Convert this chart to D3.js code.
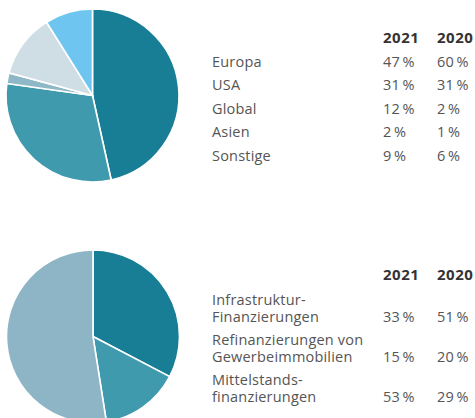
<!DOCTYPE html>
<html>
<head>
<meta charset="utf-8">
<script src="https://cdn.jsdelivr.net/npm/d3@7"></script>
<style>
  body { margin: 0; background: #fff; }
  svg text { font-family: "Open Sans", sans-serif; font-size: 14.5px; fill: #555; letter-spacing: 0.2px; }
  svg text.head { font-weight: bold; fill: #333; font-size: 15px; letter-spacing: 0.5px; }
</style>
</head>
<body>
<svg width="475" height="418"></svg>
<script>
// regions table (top)
var regions = ["Europa", "USA", "Global", "Asien", "Sonstige"];
var regions2021 = [47, 31, 12, 2, 9];
var regions2020 = [60, 31, 2, 1, 6];
var regionColors = ["#177e95", "#3f9aae", "#cfdde5", "#8eb8c7", "#6ec6f0"];
var regionPieOrder = ["Europa", "USA", "Asien", "Global", "Sonstige"];

// financing table (bottom)
var loans = [["Infrastruktur-", "Finanzierungen"], ["Refinanzierungen von", "Gewerbeimmobilien"], ["Mittelstands-", "finanzierungen"]];
var loans2021 = [33, 15, 53];
var loans2020 = [51, 20, 29];
var loanColors = ["#177e95", "#3f9aae", "#8db5c6"];

var years = ["2021", "2020"];

var svg = d3.select("svg");
var r = 86.5;
var arc = d3.arc().innerRadius(0).outerRadius(r);
var pie = d3.pie().sort(null).value(d => d.value);

function drawPie(cx, cy, data) {
  var g = svg.append("g").attr("transform", "translate(" + cx + "," + cy + ")");
  g.selectAll("path")
    .data(pie(data))
    .enter().append("path")
      .attr("d", arc)
      .style("fill", d => d.data.color)
      .style("stroke", "#fff")
      .style("stroke-width", "1.6px");
}

var pie1 = regionPieOrder.map(function(name) {
  var i = regions.indexOf(name);
  return { value: regions2021[i], color: regionColors[i] };
});
drawPie(92.5, 95.5, pie1);

var pie2 = loans.map((d, i) => ({ value: loans2021[i], color: loanColors[i] }));
drawPie(93, 336.5, pie2);

var colX = [383, 437];
var pct = v => v + "\u2009%";

// top table
years.forEach(function(y, j) {
  svg.append("text").attr("class", "head").attr("x", colX[j]).attr("y", 43).text(y);
});
regions.forEach(function(name, i) {
  var y = 66.5 + i * 23.5;
  svg.append("text").attr("x", 212).attr("y", y).text(name);
  svg.append("text").attr("x", colX[0]).attr("y", y).text(pct(regions2021[i]));
  svg.append("text").attr("x", colX[1]).attr("y", y).text(pct(regions2020[i]));
});

// bottom table
years.forEach(function(y, j) {
  svg.append("text").attr("class", "head").attr("x", colX[j]).attr("y", 280).text(y);
});
loans.forEach(function(lines, i) {
  var y = 322 + i * 40;
  svg.append("text").attr("x", 212).attr("y", y - 17).text(lines[0]);
  svg.append("text").attr("x", 212).attr("y", y).text(lines[1]);
  svg.append("text").attr("x", colX[0]).attr("y", y).text(pct(loans2021[i]));
  svg.append("text").attr("x", colX[1]).attr("y", y).text(pct(loans2020[i]));
});
</script>
</body>
</html>
